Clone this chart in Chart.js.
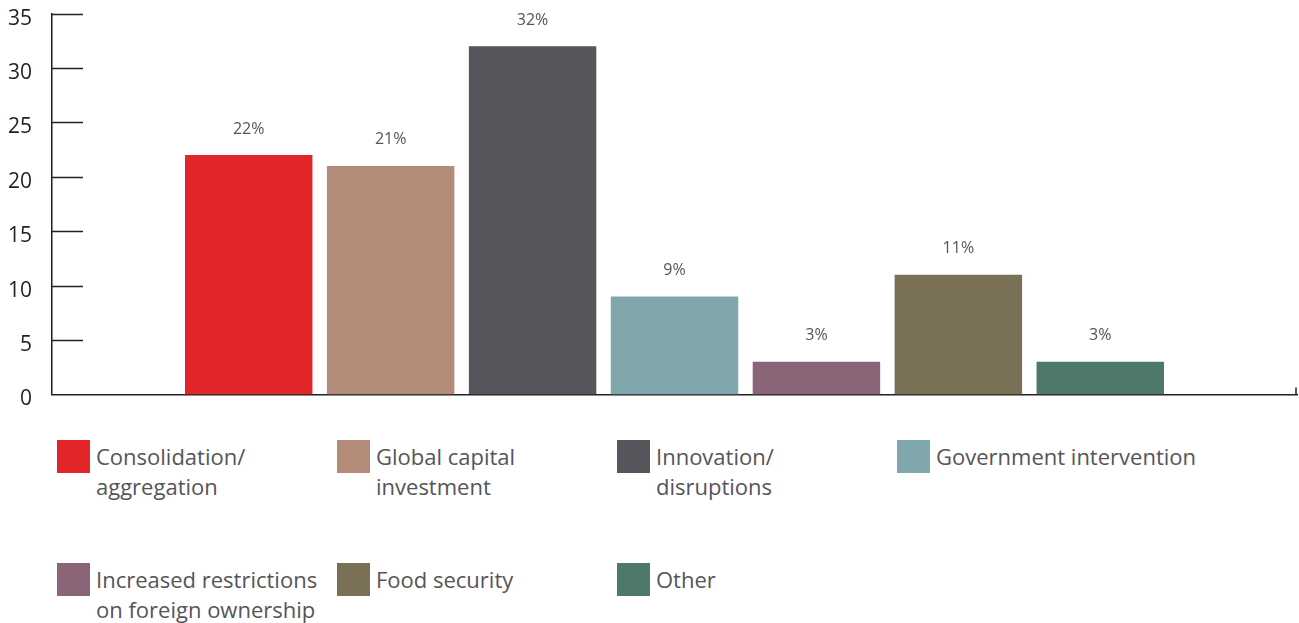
<!DOCTYPE html>
<html>
<head>
<meta charset="utf-8">
<script src="https://cdn.jsdelivr.net/npm/chart.js@4.4.0/dist/chart.umd.min.js"></script>
<style>
  html, body { margin: 0; padding: 0; background: #fff; }
  body { width: 1299px; height: 623px; overflow: hidden; position: relative; font-family: "Open Sans", sans-serif; }
  #wrap { position: absolute; left: -10px; top: -11px; width: 1309px; height: 430px; }
  #legend { position: absolute; left: 0; top: 440px; width: 1299px; }
  .item { position: absolute; display: flex; align-items: flex-start; }
  .sw { width: 33px; height: 33px; flex: none; }
  .lbl { margin-left: 6px; font-size: 22px; line-height: 30px; color: #555559; white-space: pre-line; margin-top: 1px; }
</style>
</head>
<body>
<div id="wrap"><canvas id="c"></canvas></div>
<div id="legend"></div>
<script>
const categories = ["Consolidation/\naggregation", "Global capital\ninvestment", "Innovation/\ndisruptions", "Government intervention", "Increased restrictions\non foreign ownership", "Food security", "Other"];
const values = [22, 21, 32, 9, 3, 11, 3];
const colors = ["#E3262A", "#B38B79", "#56555B", "#7FA7AC", "#8A6577", "#7A7056", "#4E786A"];
const yTicks = [0, 5, 10, 15, 20, 25, 30, 35];

const datasets = categories.map((name, i) => ({
  label: name.replace("\n", " "),
  data: [values[i]],
  backgroundColor: colors[i],
  borderWidth: 0,
  categoryPercentage: 0.798,
  barPercentage: 0.898
}));

const axisColor = "#231f20";

const extras = {
  id: "extras",
  afterDatasetsDraw(chart) {
    const ctx = chart.ctx;
    const ca = chart.chartArea;
    const y = chart.scales.y;
    ctx.save();
    ctx.strokeStyle = axisColor;
    ctx.lineWidth = 1.5;
    y.ticks.forEach(t => {
      if (t.value === 0) return;
      const py = Math.round(y.getPixelForValue(t.value)) + 0.5;
      ctx.beginPath();
      ctx.moveTo(ca.left, py);
      ctx.lineTo(ca.left + 31, py);
      ctx.stroke();
    });
    ctx.beginPath();
    ctx.moveTo(ca.right - 1, ca.bottom);
    ctx.lineTo(ca.right - 1, ca.bottom - 7);
    ctx.stroke();
    ctx.fillStyle = "#555559";
    ctx.font = "16px 'Open Sans', sans-serif";
    ctx.textAlign = "center";
    ctx.textBaseline = "middle";
    chart.data.datasets.forEach((ds, i) => {
      const meta = chart.getDatasetMeta(i);
      meta.data.forEach((bar, j) => {
        ctx.fillText(ds.data[j] + "%", bar.x, bar.y - 26);
      });
    });
    ctx.restore();
  }
};

new Chart(document.getElementById("c"), {
  type: "bar",
  data: { labels: [""], datasets },
  options: {
    responsive: true,
    maintainAspectRatio: false,
    animation: false,
    layout: { padding: { left: 6, right: 2, top: 2, bottom: 0 } },
    plugins: { legend: { display: false }, tooltip: { enabled: false } },
    scales: {
      x: {
        grid: { display: false },
        border: { display: true, color: axisColor, width: 1.5 },
        ticks: { display: false }
      },
      y: {
        min: 0, max: 35,
        afterBuildTicks(scale) { scale.ticks = yTicks.map(v => ({ value: v })); },
        grid: { display: false },
        border: { display: true, color: axisColor, width: 1.5 },
        ticks: { color: "#231f20", font: { family: "'Open Sans', sans-serif", size: 21 }, padding: 12, labelOffset: 5 }
      }
    }
  },
  plugins: [extras]
});

const legend = document.getElementById("legend");
const cols = [57, 337, 617, 897];
categories.forEach((name, i) => {
  const it = document.createElement("div");
  it.className = "item";
  it.style.left = cols[i % 4] + "px";
  it.style.top = (Math.floor(i / 4) * 123) + "px";
  const sw = document.createElement("div");
  sw.className = "sw";
  sw.style.background = colors[i];
  const lb = document.createElement("div");
  lb.className = "lbl";
  lb.textContent = name;
  it.appendChild(sw); it.appendChild(lb);
  legend.appendChild(it);
});
</script>
</body>
</html>
